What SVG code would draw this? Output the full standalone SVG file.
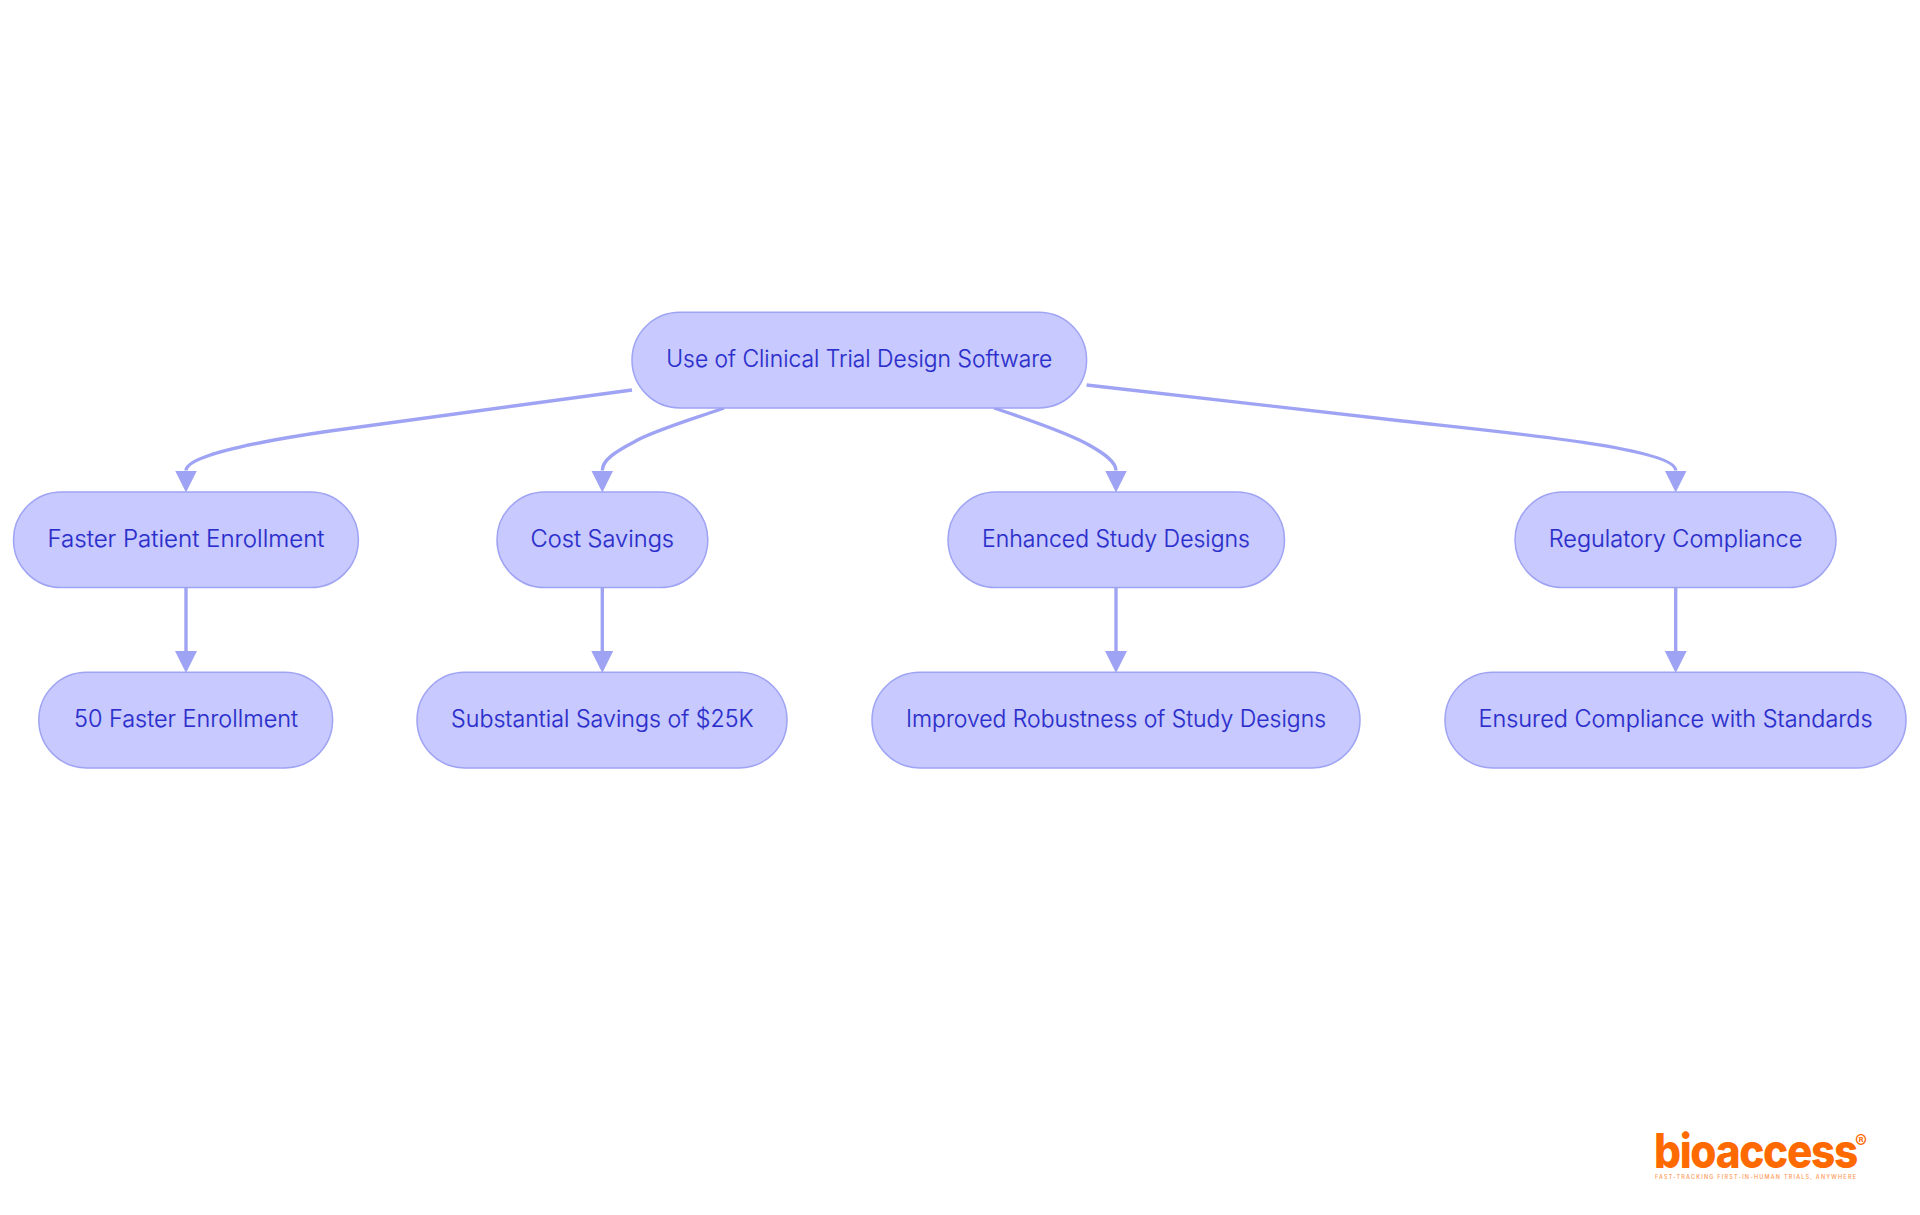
<svg xmlns="http://www.w3.org/2000/svg" width="1920" height="1215" viewBox="0 0 1920 1215">
<style>
.n{fill:#c8caff;stroke:#9fa3f3;stroke-width:1.5}
.t{font-family:"Inter","Noto Sans",sans-serif;font-size:23.5px;font-weight:300;fill:#2a2dcb;stroke:#2a2dcb;stroke-width:.2;text-anchor:middle;dominant-baseline:central}
.e{fill:none;stroke:#9fa3f3;stroke-width:3.4;marker-end:url(#a)}
.l{font-family:"Inter","Liberation Sans",sans-serif;fill:#ff6a00}
</style>
<defs><marker id="a" markerUnits="userSpaceOnUse" viewBox="0 0 22 22" refX="0" refY="11" markerWidth="22" markerHeight="22" orient="auto"><path d="M0,0L22,11L0,22Z" fill="#9fa3f3"/></marker></defs>
<rect width="1920" height="1215" fill="#fff"/>
<g id="connectors">
<path class="e" d="M632,390L330,431C240,444 186,458 186,470.5"/>
<path class="e" d="M724,408C690,420 650,432 634,442C615,452 602.3,460 602.3,470.5"/>
<path class="e" d="M994,408C1030,420 1070,434 1089,445C1105,454 1116,462 1116,470.5"/>
<path class="e" d="M1086.6,385L1400,420.7C1510,433 1675.7,448 1675.7,470.5"/>
<path class="e" d="M186,588V651"/>
<path class="e" d="M602.3,588V651"/>
<path class="e" d="M1116,588V651"/>
<path class="e" d="M1675.7,588V651"/>
</g>
<g id="root"><rect class="n" x="632" y="312.3" width="454.6" height="95.6" rx="47.8"/><text class="t" x="859.3" y="358.5" textLength="386" lengthAdjust="spacingAndGlyphs">Use of Clinical Trial Design Software</text></g>
<g id="n1"><rect class="n" x="13.5" y="492" width="344.9" height="95.6" rx="47.8"/><text class="t" x="186" y="538.5" textLength="277" lengthAdjust="spacingAndGlyphs">Faster Patient Enrollment</text></g>
<g id="n2"><rect class="n" x="497" y="492" width="210.8" height="95.6" rx="47.8"/><text class="t" x="602.3" y="538.5" textLength="143.5" lengthAdjust="spacingAndGlyphs">Cost Savings</text></g>
<g id="n3"><rect class="n" x="948" y="492" width="336.5" height="95.6" rx="47.8"/><text class="t" x="1116" y="538.5" textLength="268" lengthAdjust="spacingAndGlyphs">Enhanced Study Designs</text></g>
<g id="n4"><rect class="n" x="1515" y="492" width="321" height="95.6" rx="47.8"/><text class="t" x="1675.5" y="538.5" textLength="253.5" lengthAdjust="spacingAndGlyphs">Regulatory Compliance</text></g>
<g id="n5"><rect class="n" x="38.8" y="672.3" width="293.8" height="95.6" rx="47.8"/><text class="t" x="186" y="718.5" textLength="224" lengthAdjust="spacingAndGlyphs">50 Faster Enrollment</text></g>
<g id="n6"><rect class="n" x="417" y="672.3" width="370" height="95.6" rx="47.8"/><text class="t" x="602.3" y="718.5" textLength="302.5" lengthAdjust="spacingAndGlyphs">Substantial Savings of $25K</text></g>
<g id="n7"><rect class="n" x="872" y="672.3" width="488" height="95.6" rx="47.8"/><text class="t" x="1116" y="718.5" textLength="420" lengthAdjust="spacingAndGlyphs">Improved Robustness of Study Designs</text></g>
<g id="n8"><rect class="n" x="1445" y="672.3" width="461" height="95.6" rx="47.8"/><text class="t" x="1675.5" y="718.5" textLength="394" lengthAdjust="spacingAndGlyphs">Ensured Compliance with Standards</text></g>
<g id="logo">
<text class="l" x="1654" y="1168" font-size="47.5" font-weight="800" letter-spacing="-1.5" textLength="203" lengthAdjust="spacingAndGlyphs">bioaccess</text>
<text class="l" x="1655" y="1179" font-size="5.5" font-weight="500" opacity=".7" textLength="201">FAST-TRACKING FIRST-IN-HUMAN TRIALS, ANYWHERE</text>
<text class="l" x="1855" y="1147.5" font-size="18" font-weight="500">®</text>
</g>
</svg>
